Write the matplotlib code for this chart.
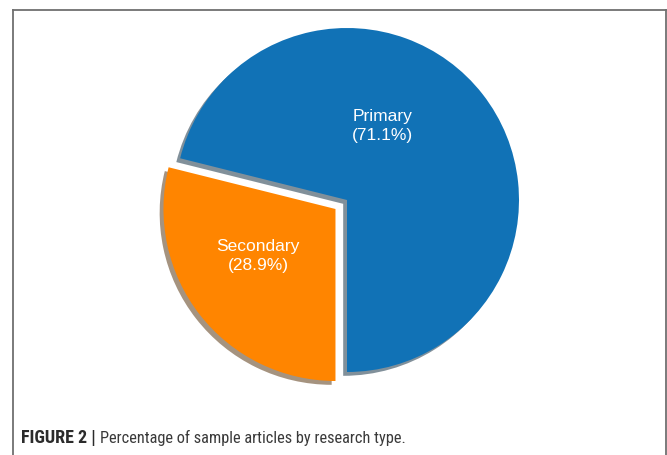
import matplotlib
matplotlib.use("Agg")
import matplotlib.pyplot as plt
from matplotlib.lines import Line2D
from matplotlib import font_manager as fm

# research type shares (%)
types = ["Primary", "Secondary"]
shares = [71.1, 28.9]
colors = ["#1172b6", "#ff8500"]
explode = [0.0, 0.085]

caption_bold = "FIGURE 2 |"
caption_text = "Percentage of sample articles by research type."

W, H, DPI = 667, 455, 100
R_PX = 172.0            # pie radius in pixels
CX, CY = 347.0, 200.0   # pie centre in pixels (from top-left)


def narrow_font(weight, size):
    """Look for a condensed sans face; fall back to Liberation Sans."""
    wanted = 700 if weight == "bold" else 400
    narrow_names = ["Liberation Sans Narrow", "DejaVu Sans Condensed",
                    "Noto Sans Condensed", "Roboto Condensed",
                    "Open Sans Condensed"]
    plain_names = ["Noto Sans", "Open Sans", "Roboto", "DejaVu Sans"]
    hits = []
    for f in fm.fontManager.ttflist:
        if f.style != "normal":
            continue
        w = f.weight if isinstance(f.weight, int) else fm.weight_dict.get(f.weight, 400)
        if w != wanted:
            continue
        if f.name in narrow_names:
            hits.append((narrow_names.index(f.name), f.fname))
        elif f.name in plain_names and f.stretch in ("condensed", "semi-condensed"):
            hits.append((10 + plain_names.index(f.name), f.fname))
    if hits:
        hits.sort()
        return fm.FontProperties(fname=hits[0][1], size=size)
    return fm.FontProperties(family="Liberation Sans", weight=weight,
                             size=size * 0.8)


fig = plt.figure(figsize=(W / DPI, H / DPI), dpi=DPI)
fig.patch.set_facecolor("white")

ax = fig.add_axes([0, 0, 1, 1])
ax.axis("off")

wedges, _ = ax.pie(shares, colors=colors, explode=explode, startangle=-90,
                   counterclock=True, radius=1.0,
                   shadow={"ox": -0.016, "oy": -0.016},
                   wedgeprops={"linewidth": 0, "antialiased": True})
ax.set_aspect("auto")
ax.set_xlim(-CX / R_PX, (W - CX) / R_PX)
ax.set_ylim(-(H - CY) / R_PX, CY / R_PX)

# slice labels
label_pos = [(0.205, 0.43), (-0.517, -0.326)]
for name, val, (lx, ly) in zip(types, shares, label_pos):
    ax.text(lx, ly, f"{name}\n({val:.1f}%)", color="white", ha="center",
            va="center", fontsize=12.5, linespacing=1.35,
            family=["Liberation Sans", "DejaVu Sans"])

# frame around the figure panel
frame_c = "#707070"
x0, x1 = 12.5 / W, 666 / W
y0 = 1 - 9.5 / H
fig.add_artist(Line2D([x0, x1], [y0, y0], color=frame_c, lw=1.3))
fig.add_artist(Line2D([x0, x0], [y0, 0], color=frame_c, lw=1.3))
fig.add_artist(Line2D([x1, x1], [y0, 0], color=frame_c, lw=1.3))

# caption
base_y = 1 - 443 / H
t1 = fig.text(21 / W, base_y, caption_bold, color="#2b2b2b", va="baseline",
              fontproperties=narrow_font("bold", 13))
fig.canvas.draw()
bb = t1.get_window_extent()
fig.text((bb.x1 + 4) / W, base_y, caption_text, color="#3a3a3a",
         va="baseline", fontproperties=narrow_font("normal", 11.8))

fig.savefig("out.png", dpi=DPI)
